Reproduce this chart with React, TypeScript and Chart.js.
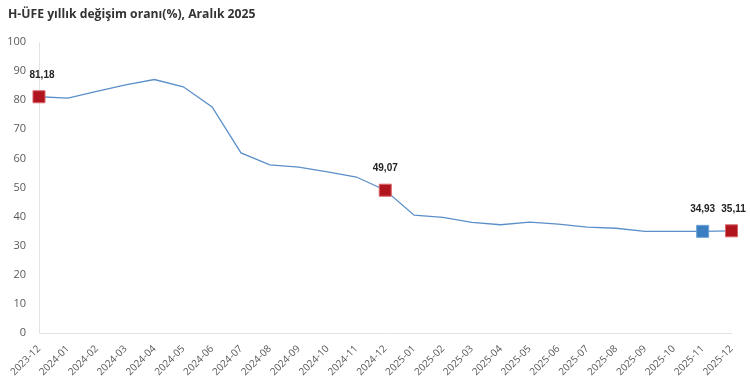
import React, { useEffect, useRef } from "react";
import { Chart, registerables } from "chart.js";

Chart.register(...registerables);

const TITLE = "H-ÜFE yıllık değişim oranı(%), Aralık 2025";

const months: string[] = [
  "2023-12", "2024-01", "2024-02", "2024-03", "2024-04", "2024-05", "2024-06",
  "2024-07", "2024-08", "2024-09", "2024-10", "2024-11", "2024-12",
  "2025-01", "2025-02", "2025-03", "2025-04", "2025-05", "2025-06",
  "2025-07", "2025-08", "2025-09", "2025-10", "2025-11", "2025-12",
];

const rates: number[] = [
  81.18, 80.7, 83.0, 85.3, 87.1, 84.6, 77.7,
  61.9, 57.8, 57.0, 55.4, 53.6, 49.07,
  40.5, 39.7, 38.0, 37.2, 38.1, 37.4,
  36.4, 36.0, 34.9, 34.9, 34.93, 35.11,
];

// indices of highlighted points and their labels
const highlighted: number[] = [0, 12, 23, 24];
const highlightLabels: string[] = ["81,18", "49,07", "34,93", "35,11"];
const highlightColors: string[] = ["#B0141C", "#B0141C", "#3B7FC2", "#B0141C"];
const highlightBorders: string[] = ["#D9666B", "#D9666B", "#6FA3D6", "#D9666B"];

const yTicks: number[] = [0, 10, 20, 30, 40, 50, 60, 70, 80, 90, 100];

export default function App() {
  const ref = useRef<HTMLCanvasElement | null>(null);

  useEffect(() => {
    document.body.style.margin = "0";
    const canvas = ref.current;
    if (!canvas) return;

    const radii = months.map((_, i) => (highlighted.includes(i) ? 8.5 : 0));
    const fills = months.map((_, i) => {
      const k = highlighted.indexOf(i);
      return k >= 0 ? highlightColors[k] : "#5B8FC9";
    });
    const borders = months.map((_, i) => {
      const k = highlighted.indexOf(i);
      return k >= 0 ? highlightBorders[k] : "#5B8FC9";
    });

    const labelPlugin = {
      id: "labelsAndTitle",
      afterDraw(chart: any) {
        const ctx = chart.ctx;
        ctx.save();
        ctx.font = "bold 12.2px 'Open Sans'";
        ctx.fillStyle = "#333333";
        ctx.textAlign = "left";
        ctx.textBaseline = "middle";
        ctx.fillText(TITLE, 8, 15);

        const xs = chart.scales.x;
        const ys = chart.scales.y;
        ctx.font = "bold 10px 'Liberation Sans'";
        ctx.fillStyle = "#222222";
        ctx.textAlign = "center";
        ctx.textBaseline = "middle";
        highlighted.forEach((idx, k) => {
          const px = xs.getPixelForValue(idx);
          const py = ys.getPixelForValue(rates[idx]);
          let tx = px;
          if (idx === 0) tx = px + 3;
          if (idx === 24) tx = px + 2;
          ctx.fillText(highlightLabels[k], tx, py - 22);
        });
        ctx.restore();
      },
    };

    const chart = new Chart(canvas, {
      type: "line",
      data: {
        labels: months,
        datasets: [
          {
            data: rates,
            borderColor: "#5B8FC9",
            borderWidth: 1.3,
            tension: 0,
            pointStyle: "rect",
            pointRadius: radii,
            pointHoverRadius: radii,
            pointBackgroundColor: fills,
            pointBorderColor: borders,
            pointBorderWidth: 1,
          },
        ],
      },
      options: {
        animation: false,
        responsive: false,
        maintainAspectRatio: false,
        layout: { padding: { top: 42, left: 8, right: 17, bottom: 0 } },
        plugins: {
          legend: { display: false },
          title: { display: false },
          tooltip: { enabled: false },
        },
        scales: {
          x: {
            type: "category",
            offset: false,
            grid: { display: false, drawTicks: false },
            border: { display: true, color: "#E3E3E3", width: 1 },
            ticks: {
              autoSkip: false,
              maxRotation: 45,
              minRotation: 45,
              padding: 10,
              color: "#595959",
              font: { size: 10, family: "'Open Sans'" },
            },
            afterFit(scale: any) {
              scale.height = 57;
            },
          },
          y: {
            min: 0,
            max: 100,
            grid: { display: false, drawTicks: false },
            border: { display: true, color: "#E3E3E3", width: 1 },
            afterBuildTicks(scale: any) {
              scale.ticks = yTicks.map((v) => ({ value: v }));
            },
            ticks: {
              padding: 13,
              color: "#595959",
              font: { size: 11, family: "'Open Sans'" },
            },
            afterFit(scale: any) {
              scale.width = 31;
            },
          },
        },
      },
      plugins: [labelPlugin],
    });

    return () => chart.destroy();
  }, []);

  return (
    <div style={{ width: 750, height: 390, background: "#ffffff" }}>
      <canvas ref={ref} width={750} height={390} style={{ display: "block" }} />
    </div>
  );
}
